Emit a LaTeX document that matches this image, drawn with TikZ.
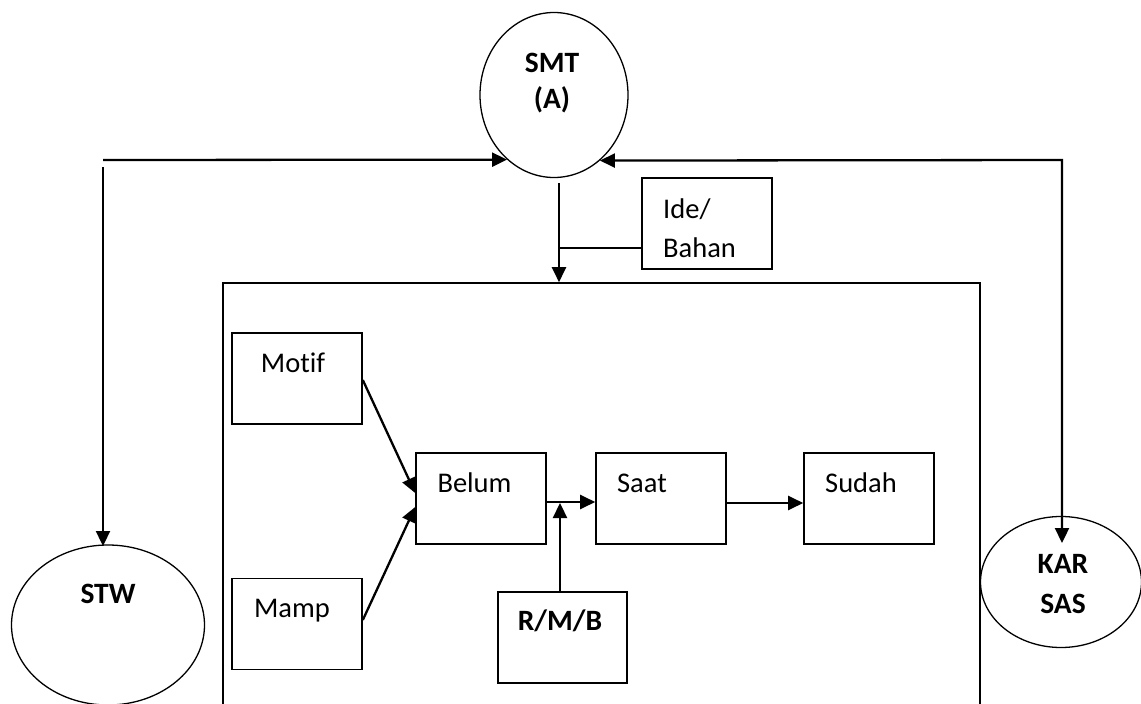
\documentclass[tikz,border=0pt]{standalone}
\usepackage{fontspec}
\setmainfont{Carlito}[Ligatures=NoCommon]
\usetikzlibrary{arrows.meta,shapes.geometric}
\begin{document}
\begin{tikzpicture}[x=1pt,y=-1pt,
  box/.style={draw, line width=1.6pt, rectangle, minimum width=130pt, minimum height=91pt, inner sep=0pt},
  oval/.style={draw, line width=1.3pt, ellipse, inner sep=0pt},
  lbl/.style={font=\fontsize{28.5}{34}\selectfont, anchor=base, inner sep=0pt},
  blbl/.style={lbl, font=\fontsize{29.5}{34}\selectfont\bfseries},
  tipstyle/.style={line width=2.3pt},
  conn/.style={tipstyle, -{Triangle[length=15pt,width=14pt]}},
  bothconn/.style={tipstyle, {Triangle[length=15pt,width=14pt]}-{Triangle[length=15pt,width=14pt]}},
  ]
\useasboundingbox (0,0) rectangle (1141,704);
\clip (0,0) rectangle (1141,704);

% outer actors
\node[oval, minimum width=148pt, minimum height=165pt] (smt) at (554,95) {};
\node[blbl] (smtA) at (552,72) {SMT};
\node[blbl] (smtB) at (552,108) {(A)};

\node[oval, minimum width=193pt, minimum height=160pt] (stw) at (108,625) {};
\node[blbl] (stwT) at (108,603) {STW};

\node[oval, minimum width=161pt, minimum height=131pt] (kar) at (1061,582) {};
\node[blbl] (karA) at (1063,573) {KAR};
\node[blbl] (karB) at (1063,613) {SAS};

% input box
\node[box] (ide) at (707,223.5) {};
\node[lbl, anchor=base west] (ideA) at (663,218) {Ide/};
\node[lbl, anchor=base west] (ideB) at (663,257) {Bahan};

% process frame
\node[draw, line width=1.6pt, rectangle, inner sep=0pt,
      minimum width=757pt, minimum height=440pt] (frame) at (601.5,503) {};

% inner boxes
\node[box] (motif) at (297,378.5) {};
\node[lbl] (motifT) at (293,372) {Motif};
\node[box] (mamp) at (297,624) {};
\node[lbl] (mampT) at (292,617) {Mamp};
\node[box] (belum) at (481,498.5) {};
\node[lbl] (belumT) at (474.5,492) {Belum};
\node[box] (saat) at (661,498.5) {};
\node[lbl] (saatT) at (642,492) {Saat};
\node[box] (sudah) at (869,498.5) {};
\node[lbl] (sudahT) at (861,492) {Sudah};
\node[box, minimum width=129pt] (rmb) at (562.5,637.5) {};
\node[blbl] (rmbT) at (560,630) {R/M/B};

% links to and from SMT
\coordinate (cl) at (103,160);
\coordinate (cl2) at (103,167);
\coordinate (stwIn) at (103,546);
\draw[conn] (cl) -- (smt.234.7);
\draw[conn] (cl2) -- (stwIn);

\coordinate (cr) at (1062,160);
\coordinate (karIn) at (1062,543);
\draw[bothconn] (smt.305.3) -- (cr) -- (karIn);

\coordinate (smtOut) at (559,183);
\draw[conn] (smtOut) -- (smtOut |- frame.north);
\coordinate (ideJ) at (559,248);
\draw[line width=1.6pt] (ideJ) -- (ideJ -| ide.west);

% flow inside the frame
\draw[conn] ([yshift=-1.5pt]motif.east) -- ([yshift=5.5pt]belum.west);
\draw[conn] ([yshift=4pt]mamp.east) -- ([yshift=-8.5pt]belum.west);
\draw[conn] ([yshift=-3.5pt]belum.east) -- ([yshift=-3.5pt]saat.west);
\draw[conn] ([yshift=-4.5pt]saat.east) -- ([yshift=-4.5pt]sudah.west);
\coordinate (rmbJ) at (560,503);
\draw[conn] (rmbJ |- rmb.north) -- (rmbJ);
\end{tikzpicture}
\end{document}
